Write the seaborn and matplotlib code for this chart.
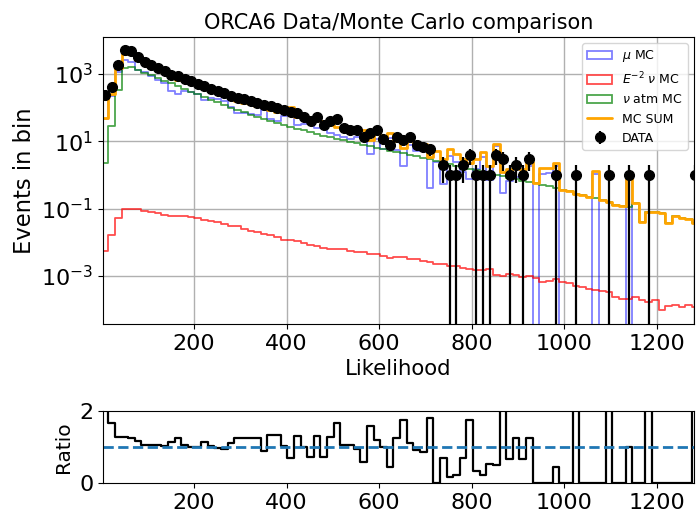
import numpy as np
import pandas as pd
import matplotlib
matplotlib.use("Agg")
import matplotlib.pyplot as plt
from matplotlib.patches import Patch
from matplotlib.lines import Line2D
from matplotlib.ticker import NullLocator, FixedLocator, LogFormatterSciNotation
import seaborn as sns

# Likelihood binning: 90 equal-width bins
edges = np.linspace(0.0, 1290.0, 91)
centers = 0.5 * (edges[:-1] + edges[1:])
bin_list = edges.tolist()

# Observed events per bin
data_counts = [
    230, 415, 1900, 5200, 4900, 3100, 2350, 1900, 1510, 1200,
    955, 850, 710, 600, 500, 430, 370, 310, 265, 225,
    190, 175, 160, 140, 120, 115, 98, 87, 74, 70,
    54, 40, 54, 30, 40, 45, 25, 22, 21, 13,
    18, 22, 12, 8, 13, 11, 13, 8, 7, 6,
    0, 2, 1, 1, 2, 4, 1, 1, 1, 4,
    3, 1, 2, 1, 3, 0, 0, 0, 1, 0,
    0, 1, 0, 0, 0, 0, 1, 0, 0, 1,
    0, 0, 1, 0, 0, 0, 0, 0, 0, 1,
]

# Atmospheric muon MC expectation
mu_mc = [
    46, 222, 1150, 2560, 2350, 1350, 1140, 900, 680, 546,
    320, 248, 313, 298, 249, 171, 189, 178, 159, 105,
    68, 69, 65, 59, 87, 46, 39, 55, 79, 30,
    33, 36, 25, 26, 18, 15, 13, 11.4, 13.3, 14.1,
    4.2, 12, 6.1, 12.5, 5.7, 1.9, 7.9, 5.2, 5.0, 0.4,
    2.4, 0.55, 3.7, 2.4, 1.2, 0.75, 1.5, 3.5, 0.73, 7.2,
    0.29, 0.67, 0.85, 0.8, 1.8, 0, 1.1, 1.15, 1.8, 0,
    0, 0, 0, 0, 1.1, 0, 0, 0, 0, 0.9,
    0, 0, 0, 0, 0, 0, 0, 0, 0, 0,
]

# E^-2 cosmic neutrino MC expectation
e2_nu_mc = [
    0.0055, 0.0165, 0.051, 0.098, 0.1, 0.099, 0.083, 0.078, 0.072, 0.066,
    0.062, 0.062, 0.059, 0.055, 0.051, 0.047, 0.044, 0.039, 0.035, 0.030,
    0.030, 0.025, 0.022, 0.020, 0.018, 0.016, 0.014, 0.012, 0.012, 0.0112,
    0.0096, 0.0083, 0.0076, 0.0069, 0.0063, 0.0063, 0.0062, 0.0056, 0.0052, 0.0052,
    0.0044, 0.0044, 0.0038, 0.0035, 0.0037, 0.0036, 0.0031, 0.0031, 0.0028, 0.0026,
    0.0023, 0.0023, 0.0020, 0.0019, 0.0017, 0.0016, 0.00145, 0.00145, 0.0016, 0.00105,
    0.001, 0.0011, 0.00103, 0.00092, 0.001, 0.00085, 0.00066, 0.00072, 0.00081, 0.00066,
    0.0006, 0.0005, 0.00048, 0.00042, 0.00038, 0.00036, 0.00033, 0.00023, 0.0002, 0.00021,
    0.00023, 0.00019, 0.000166, 0.00019, 0.000095, 0.00013, 0.00014, 0.00012, 0.00014, 0.00012,
]

# Atmospheric neutrino MC expectation
atm_nu_mc = [
    2.3, 28, 330, 1500, 1600, 1320, 1100, 910, 760, 630,
    525, 437, 363, 302, 251, 209, 174, 145, 120, 100,
    85, 72, 62, 52, 46, 40, 35, 30, 26.5, 23.5,
    21, 18.6, 16.6, 14.8, 13.2, 11.8, 10.7, 9.6, 8.7, 7.9,
    7.1, 6.5, 5.9, 5.3, 4.8, 4.35, 3.9, 3.55, 3.2, 2.9,
    2.6, 2.35, 2.15, 1.9, 1.7, 1.55, 1.38, 1.26, 1.12, 1.02,
    0.91, 0.83, 0.76, 0.68, 0.62, 0.56, 0.5, 0.46, 0.41, 0.36,
    0.33, 0.28, 0.25, 0.22, 0.2, 0.18, 0.16, 0.125, 0.117, 0.11,
    0.148, 0.04, 0.077, 0.077, 0.074, 0.038, 0.061, 0.051, 0.05, 0.038,
]

mu = np.asarray(mu_mc, float)
e2 = np.asarray(e2_nu_mc, float)
atm = np.asarray(atm_nu_mc, float)
data = np.asarray(data_counts, float)
mc_sum = mu + e2 + atm
ratio = data / mc_sum

hists = pd.DataFrame({
    "likelihood": centers,
    "mu": mu,
    "e2": e2,
    "atm": atm,
    "mc_sum": mc_sum,
    "ratio": ratio,
})

sns.set_style("ticks")
plt.rcParams["font.family"] = ["DejaVu Sans"]
plt.rcParams["text.color"] = "black"
plt.rcParams["axes.labelcolor"] = "black"
plt.rcParams["xtick.color"] = "black"
plt.rcParams["ytick.color"] = "black"
plt.rcParams["axes.edgecolor"] = "black"

fig = plt.figure(figsize=(6.96, 5.14), dpi=100)
ax = fig.add_axes([0.148, 0.3696, 0.849, 0.5584])
axr = fig.add_axes([0.148, 0.0603, 0.849, 0.1401])

ax.set_yscale("log")

components = [
    ("mu", "blue", 0.5, r"$\mu$ MC"),
    ("e2", "red", 0.7, r"$E^{-2}$ $\nu$ MC"),
    ("atm", "green", 0.7, r"$\nu$ atm MC"),
]
handles = []
for col, color, alpha, label in components:
    sns.histplot(data=hists, x="likelihood", weights=col, bins=bin_list,
                 element="step", fill=False, color=color, alpha=alpha,
                 linewidth=1.3, ax=ax)
    handles.append(Patch(facecolor="none", edgecolor=color, alpha=alpha,
                         linewidth=1.3, label=label))

sns.histplot(data=hists, x="likelihood", weights="mc_sum", bins=bin_list,
             element="step", fill=False, color="orange", linewidth=2.0, ax=ax)
handles.append(Line2D([], [], color="orange", linewidth=2.0, label="MC SUM"))

has_data = data > 0
eb = ax.errorbar(centers[has_data], data[has_data], yerr=np.sqrt(data[has_data]),
                 fmt="o", color="black", markersize=7, elinewidth=1.6,
                 label="DATA", zorder=5)
handles.append(eb)

ax.set_xlim(3, 1280)
ax.set_ylim(3.7e-5, 1.26e4)
ax.yaxis.set_major_locator(FixedLocator([1e-3, 1e-1, 1e1, 1e3]))
ax.yaxis.set_major_formatter(LogFormatterSciNotation())
ax.yaxis.set_minor_locator(NullLocator())
ax.set_xticks([200, 400, 600, 800, 1000, 1200])
ax.grid(True, color="#b0b0b0", linewidth=1.0)
ax.tick_params(labelsize=16)
ax.set_xlabel("Likelihood", fontsize=15.3)
ax.set_ylabel("Events in bin", fontsize=16.3)
ax.set_title("ORCA6 Data/Monte Carlo comparison", fontsize=15)
ax.legend(handles=handles, loc="upper right", fontsize=9, framealpha=0.8)

sns.histplot(data=hists, x="likelihood", weights="ratio", bins=bin_list,
             element="step", fill=False, color="black", linewidth=1.6, ax=axr)
axr.axhline(1.0, linestyle="--", color="tab:blue", linewidth=2.0)
axr.set_xlim(3, 1280)
axr.set_ylim(0, 2)
axr.set_yticks([0, 2])
axr.set_xticks([200, 400, 600, 800, 1000, 1200])
axr.tick_params(labelsize=16)
axr.set_xlabel("")
axr.set_ylabel("Ratio", fontsize=14.5)

fig.savefig("out.png", dpi=100)
